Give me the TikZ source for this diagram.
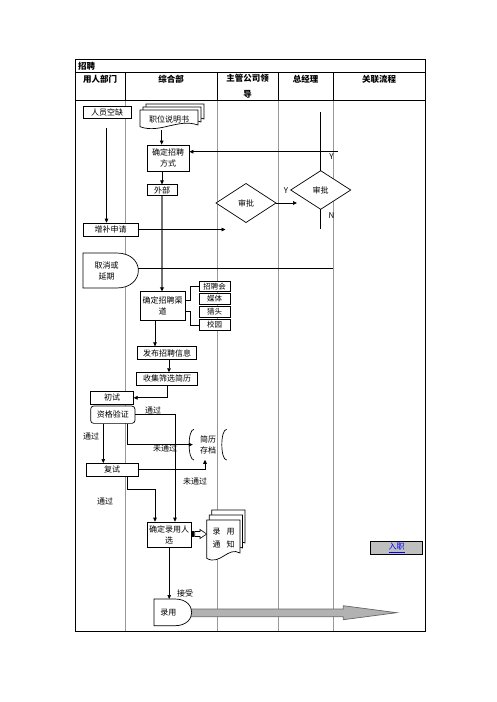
\documentclass[tikz,border=0pt]{standalone}
\usepackage{fontspec}
\setmainfont{Noto Sans CJK SC}
\usetikzlibrary{arrows.meta,calc}
\begin{document}
\begin{tikzpicture}[x=1pt,y=-1pt,
  sz/.style 2 args={minimum width=#1pt,minimum height=#2pt},
  box/.style={draw,line width=0.7pt,inner sep=0pt,align=center,fill=white,font=\fontsize{8}{11}\selectfont},
  txt/.style={inner sep=0pt,align=center,font=\fontsize{8}{11}\selectfont},
  small/.style={draw,line width=0.7pt,inner sep=0pt,align=center,fill=white,font=\fontsize{7.5}{9}\selectfont,minimum width=31pt,minimum height=10.5pt},
  hd/.style={inner sep=0pt,align=center,font=\fontsize{8.5}{16}\selectfont\bfseries},
  lbl/.style={inner sep=0pt,font=\fontsize{8}{10}\selectfont},
  conn/.style={line width=0.7pt},
  arr/.style={line width=0.7pt,-{Triangle[length=4pt,width=3.6pt]}},
  colline/.style={line width=0.6pt,draw=black!40},
  dia/.style={draw,line width=0.7pt,inner sep=0pt,fill=white,font=\fontsize{8}{10}\selectfont,
    shape=rectangle,minimum width=0pt},
]
\useasboundingbox (0,0) rectangle (496,702);

% ---------- table ----------
\foreach \cx in {125,217,278,333}{\draw[colline] (\cx,100) -- (\cx,631);}
\draw[line width=0.8pt] (75,59) rectangle (425,631);
\draw[line width=0.8pt] (75,72) -- (425,72);
\draw[line width=0.8pt] (75,100) -- (425,100);
\foreach \cx in {125,217,278,333}{\draw[line width=0.8pt] (\cx,72) -- (\cx,100);}
\node[hd,anchor=west] (title) at (78,66) {招聘};
\node[hd] (h1) at (100,79) {用人部门};
\node[hd] (h2) at (171,79) {综合部};
\node[hd] (h3) at (247.5,86.5) {主管公司领\\导};
\node[hd] (h4) at (305.5,79) {总经理};
\node[hd] (h5) at (379,79) {关联流程};

% ---------- thick gray flow line ----------
\node[box,sz={30}{10.5}] (wb) at (162,190) {外部};
\node[box,sz={45}{28.5}] (qdqd) at (162.5,306) {确定招聘渠\\道};
\draw[line width=1.6pt,draw=black!55,-{Triangle[length=4pt,width=3.8pt]},-{Triangle[length=4pt,width=3.8pt,color=black]}] (wb.south) -- (wb.south |- qdqd.north);

% ---------- user dept ----------
\node[box,sz={48}{11.5}] (ryk) at (107,112.5) {人员空缺};
\node[box,sz={55}{13}] (zbsq) at (110.5,229.5) {增补申请};
\draw[arr] ([xshift=-0.5pt,yshift=-9pt]ryk.south) -- ([xshift=-0.5pt]ryk.south |- zbsq.north);

% cancel / delay shape
\draw[line width=0.7pt,fill=white] (83,253) -- (116.7,253) .. controls (145.6,253) and (145.6,288) .. (116.7,288) -- (83,288) -- cycle;
\node[txt,sz={40}{30}] (qx) at (106.5,270.5) {取消或\\延期};
\coordinate (qxe) at (138.3,268);
\coordinate (qxend) at (333,268);
\draw[conn] (qxe) -- (qxend);

% ---------- job description multi-document ----------
\foreach \o in {6,3,0}{
  \draw[line width=0.7pt,fill=white] (140+\o,110-\o) -- (198+\o,110-\o) -- (198+\o,125-\o)
     .. controls (178+\o,118-\o) and (160+\o,134-\o) .. (140+\o,126.7-\o) -- cycle;
}
\node[txt] (zwsm) at (169,119.5) {职位说明书};
\coordinate (zwsmb) at (161.7,129.5);

\node[box,sz={42}{26}] (qdfs) at (168,158) {确定招聘\\方式};
\draw[arr] (zwsmb) -- (zwsmb |- qdfs.north);
\draw[arr] (qdfs.south -| wb) -- (wb.north);

% ---------- approvals ----------
\draw[line width=0.7pt,fill=white] (216,203) -- (246,183.5) -- (276,203) -- (246,222.5) -- cycle;
\node[lbl] (sp1) at (246,203) {审批};
\coordinate (sp1e) at (276,203);
\draw[line width=0.7pt,fill=white] (290.7,190) -- (320.7,170.7) -- (350.7,190) -- (320.7,209.3) -- cycle;
\node[lbl] (sp2) at (320.7,190) {审批};
\coordinate (sp2n) at (320.3,170.7);
\coordinate (sp2s) at (320.3,209.3);
\coordinate (sp2top) at (320.3,112);
\coordinate (yline) at (338,151.7);
\coordinate (sp1arr) at (297,203);
\coordinate (zbend) at (225.5,229.5);
\coordinate (nend) at (320.3,229);
\draw[conn] (sp2n) -- (sp2top);
\draw[arr] (yline) -- (yline -| qdfs.east);
\draw[arr] (sp1e) -- (sp1arr);
\draw[conn] (sp2s) -- (nend);
\draw[arr] (zbsq.east) -- (zbend);
\node[lbl] (y1) at (331.5,157) {Y};
\node[lbl] (y2) at (286,191) {Y};
\node[lbl] (n1) at (331.5,216) {N};

% ---------- channels ----------
\node[small] (zph) at (214.5,286.5) {招聘会};
\node[small] (mt) at (214.5,299) {媒体};
\node[small] (lt) at (214.5,312) {猎头};
\node[small] (xy) at (214.5,325) {校园};
\draw[conn] ([yshift=6pt]qdqd.east) -- ++(5,0) |- (zph.west);
\draw[conn] ([yshift=-5.7pt]qdqd.east) -- ++(5,0) |- (xy.west);

% ---------- publish / collect ----------
\node[box,sz={59}{12.6}] (fb) at (167.2,353) {发布招聘信息};
\node[box,sz={60.6}{12.3}] (sj) at (167,378.8) {收集筛选简历};
\draw[arr] ([xshift=-7.5pt]qdqd.south) -- ([xshift=-7.5pt]qdqd.south |- fb.north);
\draw[arr] ([xshift=1.8pt]fb.south) -- ([xshift=1.8pt]fb.south |- sj.north);

\node[box,sz={42.6}{12.3}] (cs) at (112,397.8) {初试};
\node[box,sz={44.3}{17.3},rounded corners=3pt] (zg) at (112.8,414.7) {资格验证};
\draw[arr] (sj.south) |- (cs.east);

% resume archive (stored data)
\draw[line width=0.7pt] (194,429.3) .. controls (187.5,429.3) and (187.5,460) .. (194,460);
\draw[line width=0.7pt] (226.7,429.3) .. controls (220.2,429.3) and (220.2,460) .. (226.7,460);
\node[txt,sz={30}{30}] (jlcd) at (208,444.6) {简历\\存档};

\node[box,sz={52.3}{12.7}] (fs) at (112.2,469.7) {复试};
\node[box,sz={43.7}{25}] (qdly) at (169.2,534.5) {确定录用人\\选};

\draw[arr] (zg.east) -| ([xshift=5.8pt]qdly.north);
\node[lbl] (tg1) at (153,410.7) {通过};
\draw[arr] ([xshift=14.5pt]zg.south) |- (jlcd.west);
\node[lbl] (wtg1) at (165,448.5) {未通过};
\draw[arr] ([xshift=-9.5pt]zg.south) -- ([xshift=-9.5pt]zg.south |- fs.north);
\node[lbl] (tg2) at (91,436) {通过};
\draw[arr] (fs.east) -| ([xshift=-3pt]jlcd.south);
\node[lbl] (wtg2) at (195,481.7) {未通过};
\coordinate (c18) at (155,489.3);
\draw[arr] ([xshift=15pt]fs.south) |- (c18) -- (c18 |- qdly.north);
\node[lbl] (tg3) at (105,501.7) {通过};

% block arrow to notice
\fill ([yshift=-2.8pt]qdly.east) rectangle ++(3,-6);
\draw[line width=0.6pt,fill=white] (194.7,531.5) -- (200,531.5) -- (200,529.5) -- (206.7,534) -- (200,538.5) -- (200,536.5) -- (194.7,536.5) -- cycle;

% notice multi-document
\foreach \o in {5,2.5,0}{
  \draw[line width=0.7pt,fill=white] (206.7+\o,520-2*\o) -- (240+\o,520-2*\o) -- (240+\o,553-2*\o)
     .. controls (228+\o,546-2*\o) and (220+\o,566-2*\o) .. (206.7+\o,558.3-2*\o) -- cycle;
}
\node[txt] (lytz) at (223.5,538) {录\hspace{6pt}用\\[2pt]通\hspace{6pt}知};

% hire
\draw[line width=0.7pt,draw=black!60,fill=black!30] (189,609) -- (343.3,609) -- (343.3,605.7) -- (396.7,612.7) -- (343.3,619.7) -- (343.3,616.7) -- (189,616.7) -- cycle;
\draw[line width=0.7pt,fill=white] (154,599) -- (175,599) .. controls (197.3,599) and (197.3,625.7) .. (175,625.7) -- (154,625.7) -- cycle;
\node[txt,sz={25}{20}] (ly) at (168.3,612.3) {录用};
\draw[arr] (qdly.south) -- (qdly.south |- 599,599);
\node[lbl] (js) at (185,593.3) {接受};

% entry link
\node[draw,line width=0.8pt,fill=black!25,inner sep=0pt,sz={51.6}{12.6},font=\fontsize{8}{10}\selectfont,text=blue] (rz) at (396.5,548) {\underline{入职}};
\end{tikzpicture}
\end{document}
